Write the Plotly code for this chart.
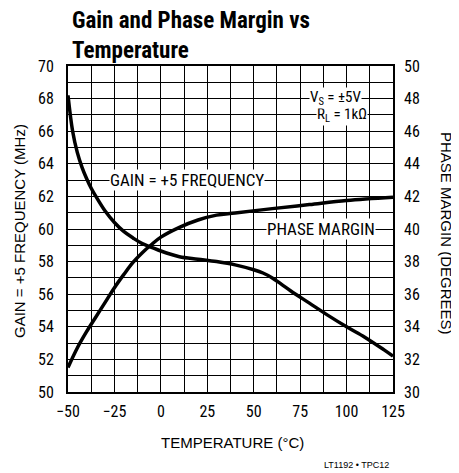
import plotly.graph_objects as go

# ---- data ----
gain_temp = [-50, -47.5, -45, -42.5, -40, -37.5, -35, -30, -25, -20, -15, -10, -5, 0,
             10, 20, 30, 40, 50, 55, 60, 65, 70, 80, 90, 100, 110, 120, 125]
gain_mhz = [68.2, 66.0, 64.7, 63.8, 63.1, 62.5, 62.0, 61.1, 60.4, 59.85, 59.45, 59.1, 58.88, 58.65,
            58.3, 58.15, 58.0, 57.8, 57.5, 57.3, 57.0, 56.6, 56.2, 55.45, 54.7, 54.0, 53.35, 52.6, 52.2]

phase_temp = [-50, -45, -40, -35, -30, -25, -20, -15, -10, -5, 0, 10, 20, 30, 40, 60, 80, 100, 125]
phase_deg = [31.5, 32.7, 33.7, 34.6, 35.5, 36.4, 37.2, 37.95, 38.55, 39.05, 39.5, 40.1, 40.55,
             40.85, 40.98, 41.25, 41.5, 41.75, 41.95]

x_ticks = [-50, -25, 0, 25, 50, 75, 100, 125]
left_ticks = list(range(50, 71, 2))
right_ticks = list(range(30, 51, 2))

FONT = "Roboto Condensed, Roboto, Liberation Sans, Arial, sans-serif"
RFONT = "Liberation Sans, Arial, sans-serif"

# page body has an 8px default margin; figure sized so it fits the 459x473 window
W, H = 451, 465
L, T = 60, 58
R, B = 66, 81
PW = W - L - R
PH = H - T - B

fig = go.Figure()
fig.add_trace(go.Scatter(x=gain_temp, y=gain_mhz, mode="lines", line=dict(color="black", width=3.5, shape="spline"),
                         showlegend=False, hoverinfo="skip"))
fig.add_trace(go.Scatter(x=phase_temp, y=phase_deg, mode="lines", yaxis="y2",
                         line=dict(color="black", width=3.5, shape="spline"),
                         showlegend=False, hoverinfo="skip"))

fig.update_layout(
    width=W, height=H,
    margin=dict(l=L, r=R, t=T, b=B, autoexpand=False),
    paper_bgcolor="white", plot_bgcolor="white",
    font=dict(family=FONT, size=16, color="black"),
    xaxis=dict(range=[-50, 125], tickvals=x_ticks, ticktext=[str(v).replace("-", "\u2212") for v in x_ticks],
               showgrid=True, gridcolor="black", gridwidth=1.3,
               minor=dict(dtick=12.5, tick0=-50, showgrid=True, gridcolor="black", gridwidth=1.3),
               showline=True, linecolor="black", linewidth=2, mirror=True,
               ticks="", zeroline=False, ticklabelstandoff=4),
    yaxis=dict(range=[50, 70], tickvals=left_ticks, showgrid=True, gridcolor="black", gridwidth=1.3,
               minor=dict(dtick=1, tick0=50, showgrid=True, gridcolor="black", gridwidth=1.3),
               showline=True, linecolor="black", linewidth=2, mirror=True,
               ticks="", zeroline=False, ticklabelstandoff=9),
    yaxis2=dict(range=[30, 50], tickvals=right_ticks, overlaying="y", side="right",
                showgrid=False, zeroline=False, ticks="", showline=False, ticklabelstandoff=10),
)

ann_font = dict(family=FONT, size=17, color="black")
small_font = dict(family=FONT, size=15, color="black")
fig.add_annotation(x=14, y=63, xref="x", yref="y", text="GAIN = +5 FREQUENCY", showarrow=False,
                   bgcolor="white", font=ann_font, borderpad=0)
fig.add_annotation(x=86, y=60, xref="x", yref="y", text="PHASE MARGIN", showarrow=False,
                   bgcolor="white", font=ann_font, borderpad=0)
fig.add_annotation(x=97.4, y=67, xref="x", yref="y", text="R<sub>L</sub> = 1kΩ", showarrow=False,
                   bgcolor="white", font=small_font, borderpad=0)
fig.add_annotation(x=94, y=68.05, xref="x", yref="y", text="V<sub>S</sub> = ±5V", showarrow=False,
                   bgcolor="white", font=small_font, borderpad=0)

fig.add_annotation(xref="paper", yref="paper", x=(70 - 68) / PW, y=1 + (66 - 5) / PH,
                   text="<b>Gain and Phase Margin vs<br>Temperature</b>",
                   showarrow=False, align="left", xanchor="left", yanchor="top",
                   font=dict(family=FONT, size=23, color="black"))

fig.add_annotation(xref="paper", yref="paper", x=-(68 - 19) / PW, y=(392 - 231) / PH, text="GAIN = +5 FREQUENCY (MHz)",
                   textangle=-90, showarrow=False, xanchor="center", yanchor="middle",
                   font=dict(family=RFONT, size=15, color="black"))
fig.add_annotation(xref="paper", yref="paper", x=1 + (446 - 393) / PW, y=(392 - 233) / PH, text="PHASE MARGIN (DEGREES)",
                   textangle=90, showarrow=False, xanchor="center", yanchor="middle",
                   font=dict(family=RFONT, size=15, color="black"))
fig.add_annotation(xref="paper", yref="paper", x=(232 - 68) / PW, y=-(442 - 392) / PH,
                   text="TEMPERATURE (°C)", showarrow=False, xanchor="center", yanchor="middle",
                   font=dict(family=RFONT, size=15, color="black"))
fig.add_annotation(xref="paper", yref="paper", x=(356 - 68) / PW, y=-(465 - 392) / PH,
                   text="LT1192 • TPC12", showarrow=False, xanchor="center", yanchor="middle",
                   font=dict(family=RFONT, size=9, color="black"))

fig.write_html("out.html")
